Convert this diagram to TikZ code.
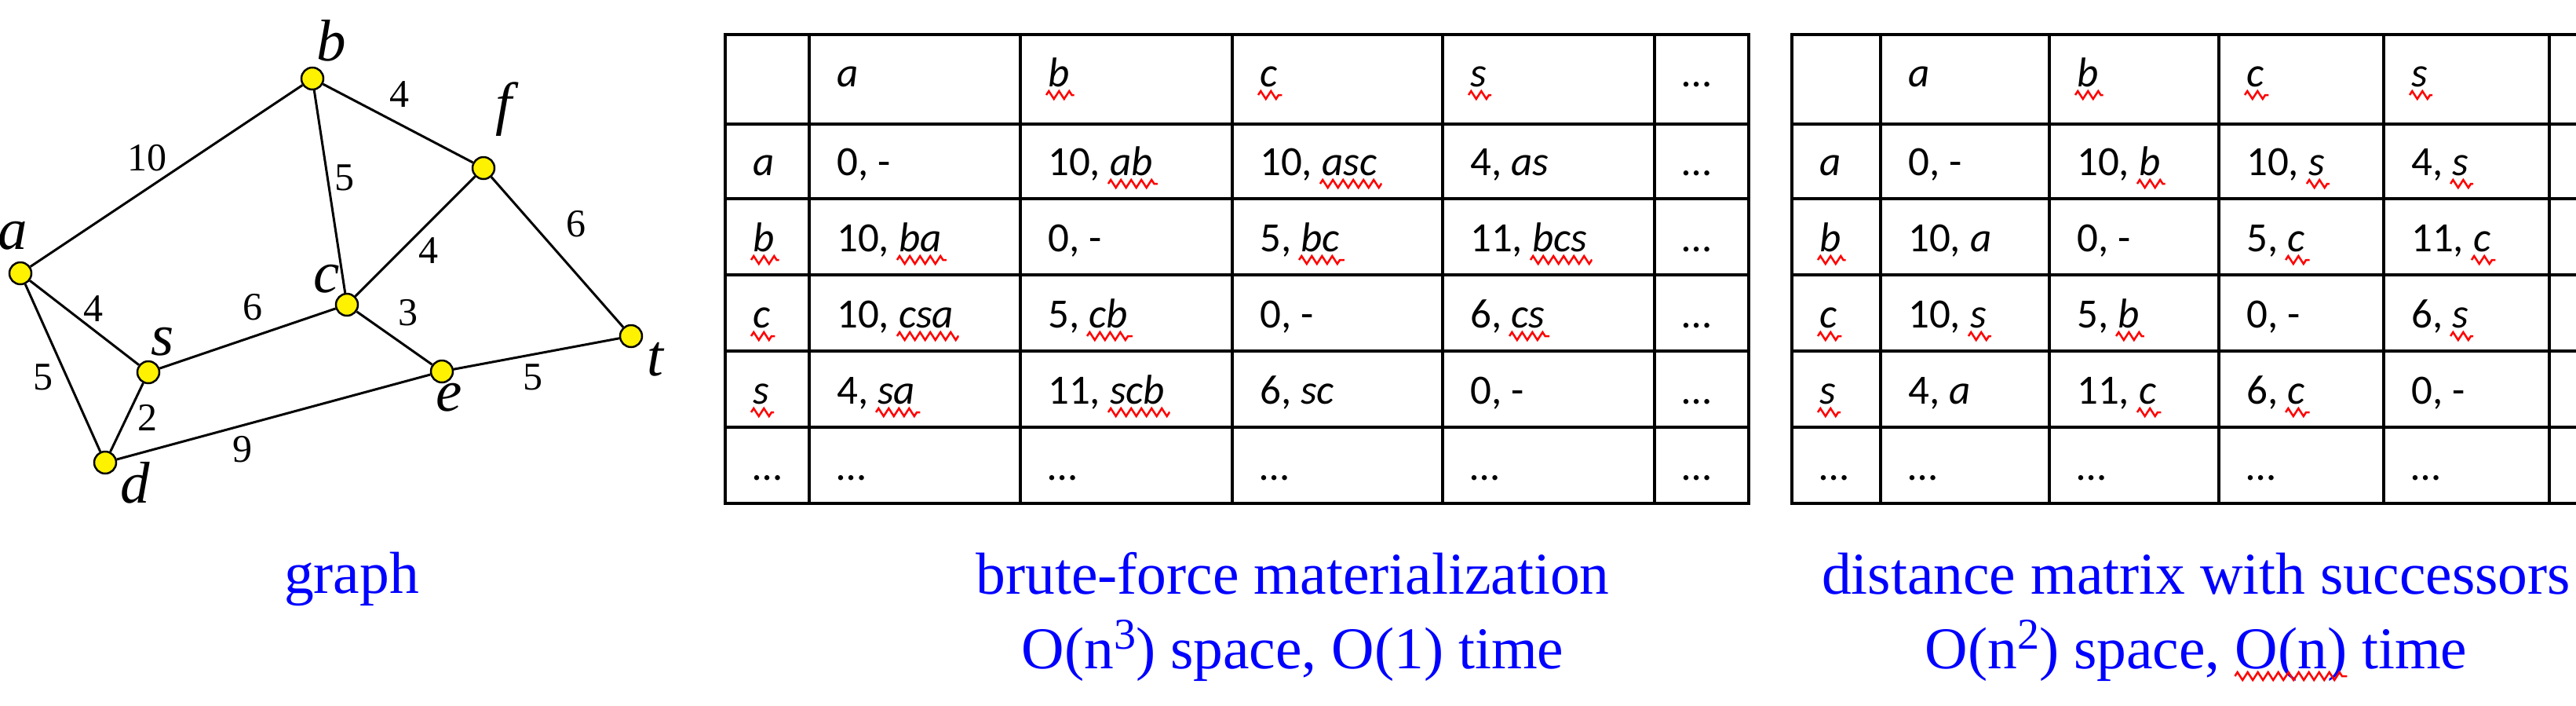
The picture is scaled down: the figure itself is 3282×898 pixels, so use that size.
\documentclass[tikz,border=0pt]{standalone}
\usepackage{fontspec}
\setmainfont{Liberation Serif}
\newfontfamily\carl{Carlito}
\usetikzlibrary{decorations.pathmorphing}
\tikzset{
  vtx/.style={circle, draw=black, fill=yellow, line width=2.5pt, minimum size=28pt, inner sep=0pt},
  edge/.style={line width=3pt, black},
  vlabel/.style={inner sep=0pt, font=\itshape\fontsize{75}{90}\selectfont},
  wlabel/.style={inner sep=0pt, font=\fontsize{50}{60}\selectfont},
  grid/.style={line width=3.6pt, black, line cap=rect},
  celltext/.style={inner sep=0pt, anchor=base west, font=\carl\fontsize{53}{63}\selectfont},
  ghost/.style={celltext, anchor=base east},
  squig/.style={red, line width=2.5pt, decorate, decoration={zigzag, segment length=13pt, amplitude=5pt}},
  caption/.style={inner sep=0pt, anchor=base, text=blue, font=\fontsize{75.5}{90}\selectfont}
}
\newcommand\cellN[3]{\node[celltext] (#1) at (#2) {#3};}
\newcommand\cellS[4]{\node[celltext] (#1) at (#2) {#3\textit{#4}};
  \node[ghost] (#1w) at (#1.base east) {\phantom{\textit{#4}}};
  \draw[squig] ([xshift=-2pt,yshift=-11pt]#1w.base west) -- ([xshift=6pt,yshift=-11pt]#1w.base east);}
\newcommand\supr[1]{\raisebox{25pt}{\fontsize{56}{56}\selectfont #1}}
\begin{document}
\begin{tikzpicture}[x=1pt, y=-1pt]
\useasboundingbox (0,0) rectangle (3282,898);
\clip (0,0) rectangle (3282,898);

% ---------------- graph ----------------
\node[vtx] (a) at (26,348) {};
\node[vtx] (b) at (398,100) {};
\node[vtx] (f) at (616,214) {};
\node[vtx] (c) at (442,388) {};
\node[vtx] (s) at (189,474) {};
\node[vtx] (e) at (563,473) {};
\node[vtx] (t) at (804,428) {};
\node[vtx] (d) at (134,589) {};

\draw[edge] (a) -- (b);
\draw[edge] (b) -- (f);
\draw[edge] (b) -- (c);
\draw[edge] (f) -- (c);
\draw[edge] (f) -- (t);
\draw[edge] (a) -- (s);
\draw[edge] (a) -- (d);
\draw[edge] (s) -- (c);
\draw[edge] (s) -- (d);
\draw[edge] (c) -- (e);
\draw[edge] (d) -- (e);
\draw[edge] (e) -- (t);

\node[vlabel] (la) at (16,300) {a};
\node[vlabel] (lb) at (422,52) {b};
\node[vlabel] (lf) at (642,139) {f};
\node[vlabel] (lc) at (416,355) {c};
\node[vlabel] (ls) at (207,435) {s};
\node[vlabel] (le) at (572,506) {e};
\node[vlabel] (lt) at (835,458) {t};
\node[vlabel] (ld) at (172,615) {d};

\node[wlabel] (wab) at (187,201) {10};
\node[wlabel] (wbf) at (509,120) {4};
\node[wlabel] (wbc) at (439,226) {5};
\node[wlabel] (wcf) at (546,319) {4};
\node[wlabel] (wft) at (734,285) {6};
\node[wlabel] (was) at (119,393) {4};
\node[wlabel] (wsc) at (322,391) {6};
\node[wlabel] (wce) at (520,398) {3};
\node[wlabel] (wad) at (55,480) {5};
\node[wlabel] (wsd) at (188,532) {2};
\node[wlabel] (wde) at (309,572) {9};
\node[wlabel] (wet) at (679,480) {5};

% ---------------- table 1 ----------------
\foreach \x in {924,1031,1300,1570,1838,2108,2228} \draw[grid] (\x,44) -- (\x,641);
\foreach \y in {44,158,253,350,447,544,641} \draw[grid] (924,\y) -- (2228,\y);

\cellN{p1ha}{1066,110}{\textit{a}}
\cellS{p1hb}{1335,110}{}{b}
\cellS{p1hc}{1605,110}{}{c}
\cellS{p1hs}{1873,110}{}{s}
\cellN{p1hd}{2143,110}{…}

\cellN{p1ar}{959,223}{\textit{a}}
\cellN{p1aa}{1066,223}{0, -}
\cellS{p1ab}{1335,223}{10, }{ab}
\cellS{p1ac}{1605,223}{10, }{asc}
\cellN{p1as}{1873,223}{4, \textit{as}}
\cellN{p1ad}{2143,223}{…}

\cellS{p1br}{959,320}{}{b}
\cellS{p1ba}{1066,320}{10, }{ba}
\cellN{p1bb}{1335,320}{0, -}
\cellS{p1bc}{1605,320}{5, }{bc}
\cellS{p1bs}{1873,320}{11, }{bcs}
\cellN{p1bd}{2143,320}{…}

\cellS{p1cr}{959,417}{}{c}
\cellS{p1ca}{1066,417}{10, }{csa}
\cellS{p1cb}{1335,417}{5, }{cb}
\cellN{p1cc}{1605,417}{0, -}
\cellS{p1cs}{1873,417}{6, }{cs}
\cellN{p1cd}{2143,417}{…}

\cellS{p1sr}{959,514}{}{s}
\cellS{p1sa}{1066,514}{4, }{sa}
\cellS{p1sb}{1335,514}{11, }{scb}
\cellN{p1sc}{1605,514}{6, \textit{sc}}
\cellN{p1ss}{1873,514}{0, -}
\cellN{p1sd}{2143,514}{…}

\cellN{p1dr}{959,611}{…}
\cellN{p1da}{1066,611}{…}
\cellN{p1db}{1335,611}{…}
\cellN{p1dc}{1605,611}{…}
\cellN{p1ds}{1873,611}{…}
\cellN{p1dd}{2143,611}{…}

% ---------------- table 2 ----------------
\foreach \x in {2283,2396,2611,2827,3037,3248} \draw[grid] (\x,44) -- (\x,641);
\foreach \y in {44,158,253,350,447,544,641} \draw[grid] (2283,\y) -- (3400,\y);

\cellN{p2ha}{2431,110}{\textit{a}}
\cellS{p2hb}{2646,110}{}{b}
\cellS{p2hc}{2862,110}{}{c}
\cellS{p2hs}{3072,110}{}{s}

\cellN{p2ar}{2318,223}{\textit{a}}
\cellN{p2aa}{2431,223}{0, -}
\cellS{p2ab}{2646,223}{10, }{b}
\cellS{p2ac}{2862,223}{10, }{s}
\cellS{p2as}{3072,223}{4, }{s}

\cellS{p2br}{2318,320}{}{b}
\cellN{p2ba}{2431,320}{10, \textit{a}}
\cellN{p2bb}{2646,320}{0, -}
\cellS{p2bc}{2862,320}{5, }{c}
\cellS{p2bs}{3072,320}{11, }{c}

\cellS{p2cr}{2318,417}{}{c}
\cellS{p2ca}{2431,417}{10, }{s}
\cellS{p2cb}{2646,417}{5, }{b}
\cellN{p2cc}{2862,417}{0, -}
\cellS{p2cs}{3072,417}{6, }{s}

\cellS{p2sr}{2318,514}{}{s}
\cellN{p2sa}{2431,514}{4, \textit{a}}
\cellS{p2sb}{2646,514}{11, }{c}
\cellS{p2sc}{2862,514}{6, }{c}
\cellN{p2ss}{3072,514}{0, -}

\cellN{p2dr}{2318,611}{…}
\cellN{p2da}{2431,611}{…}
\cellN{p2db}{2646,611}{…}
\cellN{p2dc}{2862,611}{…}
\cellN{p2ds}{3072,611}{…}

% ---------------- captions ----------------
\node[caption] (cap1) at (448,755) {graph};
\node[caption] (cap2a) at (1647,756) {brute-force materialization};
\node[caption] (cap2b) at (1647,851) {O(n\supr{3}) space, O(1) time};
\node[caption] (cap3a) at (2798,756) {distance matrix with successors};
\node[caption] (cap3b) at (2798,851) {O(n\supr{2}) space, O(n) time};
\node[caption, anchor=base east] (cap3t) at (cap3b.base east) {\phantom{O(n) time}};
\node[caption, anchor=base west] (cap3o) at (cap3t.base west) {\phantom{O(n)}};
\draw[squig] ([yshift=-10pt]cap3o.base west) -- ([yshift=-10pt]cap3o.base east);
\end{tikzpicture}
\end{document}
